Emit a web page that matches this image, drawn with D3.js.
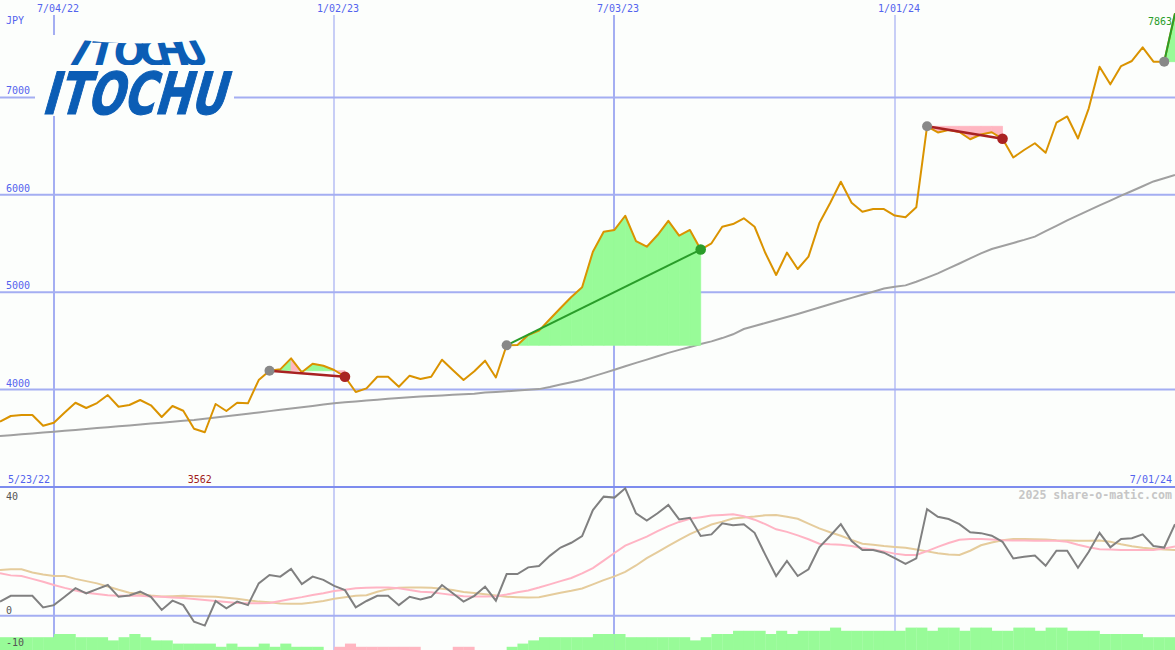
<!DOCTYPE html>
<html><head><meta charset="utf-8">
<script src="https://cdn.jsdelivr.net/npm/d3@7"></script>
<style>html,body{margin:0;padding:0;background:#fcfefc;overflow:hidden}</style>
</head><body><svg id="c" width="1175" height="650"></svg>
<script>
// ---------------- data ----------------
const startDate = "2022-05-30";           // first weekly point
const endDate = "2024-07-01";             // last (current) point
const price = [3670,3729,3739,3739,3629,3660,3765,3865,3811,3862,
 3944,3824,3842,3893,3839,3719,3832,3783,3598,3562,
 3852,3780,3865,3859,4098,4194,4208,4321,4178,4266,
 4245,4201,4132,3975,4013,4132,4132,4030,4143,4109,
 4132,4307,4201,4098,4188,4297,4124,4455,4458,4561,
 4605,4722,4838,4951,5050,5416,5621,5639,5785,5524,
 5467,5587,5733,5580,5639,5438,5502,5672,5700,5759,
 5672,5402,5177,5406,5238,5365,5707,5913,6134,5919,
 5826,5854,5854,5787,5769,5872,6703,6640,6665,6645,
 6570,6619,6642,6575,6383,6460,6529,6432,6740,6804,
 6578,6888,7315,7134,7322,7374,7514,7367,7367,7863];
const ma52 = [3524,3532,3541,3550,3559,3568,3577,3586,3595,3605,
 3614,3623,3632,3642,3651,3660,3670,3679,3688,3700,
 3713,3726,3740,3753,3766,3779,3793,3806,3819,3832,
 3846,3859,3869,3878,3887,3897,3906,3915,3922,3928,
 3934,3940,3946,3952,3958,3969,3976,3983,3990,3998,
 4005,4027,4052,4076,4101,4136,4169,4203,4239,4274,
 4308,4342,4377,4408,4438,4468,4495,4529,4568,4622,
 4653,4684,4715,4746,4777,4809,4843,4876,4910,4942,
 4974,5005,5037,5055,5070,5107,5150,5193,5244,5295,
 5347,5398,5444,5475,5506,5537,5571,5627,5682,5738,
 5789,5840,5891,5941,5991,6039,6088,6137,6170,6203];
const osc = [4.4,6.2,6.2,6.2,2.6,3.3,5.9,8.6,7.0,8.3,
 9.6,5.9,6.3,7.5,5.9,1.8,4.7,3.3,-1.9,-3.1,
 4.6,2.3,4.4,3.3,10.1,12.7,12.2,14.6,9.9,12.2,
 11.2,9.3,8.0,2.6,4.6,6.2,6.2,3.3,5.9,5.1,
 5.9,9.6,7.0,4.4,6.2,9.1,4.7,13.0,13.0,15.1,
 15.5,18.7,21.3,22.8,24.9,33.0,37.2,36.9,39.8,32.0,
 29.7,32.0,34.6,30.1,30.6,24.9,25.4,28.9,28.3,28.6,
 25.9,19.0,12.4,17.1,12.4,14.5,21.4,24.9,28.6,23.3,
 20.5,20.5,19.7,18.0,16.2,17.9,33.3,30.9,30.2,28.6,
 26.1,25.8,25.0,23.1,17.9,18.4,18.8,15.6,20.3,20.3,
 15.0,20.0,25.9,21.4,24.0,24.2,25.4,21.8,21.3,28.6];
const oscFast = [13.3,12.6,12.4,11.5,10.6,9.6,8.7,7.9,7.2,6.8,
 6.4,6.2,6.2,6.2,6.0,5.9,5.7,5.5,5.2,4.9,
 4.6,4.3,4.0,3.9,3.9,4.0,4.6,5.2,5.8,6.5,
 7.0,7.7,8.1,8.6,8.7,8.8,8.8,8.6,8.0,7.5,
 7.3,6.9,6.5,6.1,6.0,6.0,6.1,6.6,7.3,7.9,
 8.8,9.8,10.8,11.8,13.2,14.9,17.2,19.6,21.9,23.3,
 24.7,26.4,28.0,29.3,30.3,30.8,31.3,31.5,31.7,31.1,
 30.0,28.6,27.0,26.2,25.1,23.9,22.5,22.3,22.2,21.8,
 21.1,20.7,20.1,19.4,19.0,19.0,20.2,21.5,22.7,23.7,
 24.0,24.0,23.8,23.6,23.5,23.5,23.4,23.4,23.4,23.1,
 22.2,21.4,20.8,20.7,20.5,20.5,20.5,20.5,21.0,21.6];
const oscSlow = [14.3,14.5,14.5,13.5,12.9,12.4,12.4,11.5,10.8,10.1,
 9.1,8.1,7.2,6.8,6.3,6.0,6.1,6.2,6.1,6.0,
 5.9,5.6,5.3,4.8,4.4,4.2,3.8,3.7,3.7,4.1,
 4.6,5.3,5.8,6.2,6.4,7.5,8.3,8.7,8.8,8.8,
 8.7,8.4,8.0,7.4,7.1,6.7,6.3,5.9,5.8,5.7,
 5.8,6.5,7.2,7.8,8.5,9.8,11.1,12.3,13.7,15.7,
 18.0,19.9,21.8,23.7,25.5,27.0,28.5,29.4,30.4,30.7,
 31.0,31.4,31.5,30.9,30.3,28.8,27.3,26.1,25.0,23.7,
 22.5,22.2,21.8,21.5,21.2,20.7,20.1,19.5,19.1,19.0,
 20.3,22.0,22.9,23.6,24.0,24.0,23.9,23.8,23.6,23.5,
 23.4,23.4,23.5,23.1,22.3,21.7,21.2,20.9,20.7,20.5];
const bars = [4,4,4,4,4,5,5,4,4,4,
 3,4,5,4,3,3,2,2,2,2,
 1,2,1,1,2,1,2,1,1,1,
 0,-1,-2,-1,-1,-1,-1,-1,-1,0,
 0,0,-1,-1,0,0,0,1,2,3,
 4,4,4,4,4,5,5,5,4,4,
 4,4,4,4,3,4,5,5,6,6,
 6,5,6,5,6,6,6,7,6,6,
 6,6,6,6,7,7,6,7,7,6,
 7,7,6,6,7,7,6,7,7,6,
 6,6,5,5,5,5,4,4,4];
const trendSegments = [[25,32],[47,65],[86,93],[108,109]];
const dateTicks = ["2022-07-04","2023-01-02","2023-07-03","2024-01-01"];
const dateTickLabels = ["7/04/22","1/02/23","7/03/23","1/01/24"];
const priceTicks = [4000,5000,6000,7000];
const oscTicks = [40,0,-10];
const currency = "JPY";
const rangeStartLabel = "5/23/22", rangeEndLabel = "7/01/24";
const minLabel = "3562", lastLabel = "7863";
const credit = "2025 share-o-matic.com";
const logoText = "ITOCHU";

// ---------------- layout ----------------
const W = 1175, H = 650;
const parse = d3.utcParse("%Y-%m-%d");
const dates = d3.range(price.length).map(i => d3.utcDay.offset(parse(startDate), 7 * i));
const svg = d3.select("#c");
const x = d3.scaleUtc().domain([parse(startDate), parse(endDate)]).range([0, W]);
const yP = d3.scaleLinear().domain([3000, 8000]).range([487, 0]);
const yO = d3.scaleLinear().domain([0, 40]).range([615.7, 487.7]);
const BG = "#fcfefc", GRID = "#a4aef2", LBL = "#5363ee";
const GREEN_F = "#98fb98", PINK_F = "#ffb6c1";

svg.append("rect").attr("width", W).attr("height", H).attr("fill", BG);

// vertical grid + date labels
dateTicks.forEach((d, i) => {
  const xx = Math.round(x(parse(d)));
  svg.append("line").attr("x1", xx).attr("x2", xx).attr("y1", 15).attr("y2", H)
    .attr("stroke", GRID).attr("stroke-width", i % 2 === 0 ? 2 : 1.2);
  svg.append("text").attr("x", xx + 4).attr("y", 12).attr("text-anchor", "middle")
    .attr("font-family", "DejaVu Sans Mono").attr("font-size", 10).attr("fill", LBL)
    .text(dateTickLabels[i]);
});
// horizontal grid + price labels
priceTicks.forEach(p => {
  const yy = yP(p);
  svg.append("line").attr("x1", 0).attr("x2", W).attr("y1", yy).attr("y2", yy)
    .attr("stroke", GRID).attr("stroke-width", 2);
  svg.append("text").attr("x", 6).attr("y", yy - 3)
    .attr("font-family", "DejaVu Sans Mono").attr("font-size", 10).attr("fill", LBL).text(p);
});
svg.append("text").attr("x", 6).attr("y", 24).attr("font-family", "DejaVu Sans Mono")
  .attr("font-size", 10).attr("fill", LBL).text(currency);

// lower panel lines
svg.append("line").attr("x1", 0).attr("x2", W).attr("y1", yO(0)).attr("y2", yO(0))
  .attr("stroke", GRID).attr("stroke-width", 2);
svg.append("line").attr("x1", 0).attr("x2", W).attr("y1", 487).attr("y2", 487)
  .attr("stroke", "#7d8cee").attr("stroke-width", 2.2);

// bars (bottom histogram)
const unit = yO(0) - yO(1);
bars.forEach((v, i) => {
  if (v === 0) return;
  const x0 = x(dates[i]), x1 = x(dates[i + 1]);
  const h = Math.abs(v) * unit;
  svg.append("rect").attr("x", x0).attr("width", x1 - x0 + 0.3).attr("y", H - h).attr("height", h)
    .attr("fill", v > 0 ? GREEN_F : PINK_F);
});

// oscillator lines
const lineO = arr => d3.line().x((d, i) => x(dates[i])).y(d => yO(d))(arr);
svg.append("path").attr("d", lineO(oscSlow)).attr("fill", "none").attr("stroke", "#e5cc9c").attr("stroke-width", 2);
svg.append("path").attr("d", lineO(oscFast)).attr("fill", "none").attr("stroke", "#ffb4c4").attr("stroke-width", 2);
svg.append("path").attr("d", lineO(osc)).attr("fill", "none").attr("stroke", "#808080").attr("stroke-width", 2);

// oscillator labels
oscTicks.forEach((t, i) => {
  const yy = [499.5, 613.5, 646][i];
  svg.append("text").attr("x", 6).attr("y", yy).attr("font-family", "DejaVu Sans Mono")
    .attr("font-size", 10).attr("fill", "#555").text(t);
});

// divider labels
svg.append("text").attr("x", 8).attr("y", 483).attr("font-family", "DejaVu Sans Mono")
  .attr("font-size", 10).attr("fill", LBL).text(rangeStartLabel);
svg.append("text").attr("x", 1172).attr("y", 483).attr("text-anchor", "end").attr("font-family", "DejaVu Sans Mono")
  .attr("font-size", 10).attr("fill", LBL).text(rangeEndLabel);
const minIdx = price.indexOf(d3.min(price));
svg.append("text").attr("x", x(dates[minIdx]) - 5).attr("y", 483).attr("text-anchor", "middle")
  .attr("font-family", "DejaVu Sans Mono").attr("font-size", 10).attr("fill", "#a02020").text(minLabel);
svg.append("text").attr("x", 1172).attr("y", 499).attr("text-anchor", "end").attr("font-family", "DejaVu Sans Mono")
  .attr("font-weight", "bold").attr("font-size", 11.6).attr("fill", "#c6c6c6").text(credit);

// 52-week moving average
const lineP = arr => d3.line().x((d, i) => x(dates[i])).y(d => yP(d))(arr);
svg.append("path").attr("d", lineP(ma52)).attr("fill", "none").attr("stroke", "#a0a0a0").attr("stroke-width", 2);

// trend fills
trendSegments.forEach(([a, b]) => {
  const base = price[a];
  for (let i = a; i < b; i++) {
    const pts = [[x(dates[i]), yP(price[i])], [x(dates[i + 1]), yP(price[i + 1])],
                 [x(dates[i + 1]), yP(base)], [x(dates[i]), yP(base)]];
    const col = price[i + 1] >= base ? GREEN_F : PINK_F;
    svg.append("path").attr("d", d3.line()(pts) + "Z")
      .attr("fill", col).attr("stroke", col).attr("stroke-width", 0.8);
  }
});

// price line
svg.append("path").attr("d", lineP(price)).attr("fill", "none").attr("stroke", "#da9300")
  .attr("stroke-width", 2).attr("stroke-linejoin", "round");

// trend lines + dots
trendSegments.forEach(([a, b]) => {
  const up = price[b] >= price[a];
  svg.append("line").attr("x1", x(dates[a])).attr("y1", yP(price[a]))
    .attr("x2", x(dates[b])).attr("y2", yP(price[b]))
    .attr("stroke", up ? "#2a9d2a" : "#a82222").attr("stroke-width", up ? 2 : 2.6);
  svg.append("circle").attr("cx", x(dates[a])).attr("cy", yP(price[a])).attr("r", 5).attr("fill", "#888");
  if (b < price.length - 1)
    svg.append("circle").attr("cx", x(dates[b])).attr("cy", yP(price[b])).attr("r", 5.3)
      .attr("fill", up ? "#2a9d2a" : "#aa2222");
});
svg.append("text").attr("x", 1172).attr("y", 25).attr("text-anchor", "end").attr("font-family", "DejaVu Sans Mono")
  .attr("font-size", 10).attr("fill", "#2a9d2a").text(lastLabel);

// logo
const logo = svg.append("g");
logo.append("rect").attr("x", 35).attr("y", 35).attr("width", 199).attr("height", 81).attr("fill", BG);
const LC = "#0b5db5";
logo.append("text").attr("transform", "translate(41,114) skewX(-16)")
  .attr("font-family", "DejaVu Sans").attr("font-weight", "bold").attr("font-size", 58)
  .attr("textLength", 183).attr("lengthAdjust", "spacingAndGlyphs").attr("fill", LC)
  .attr("stroke", LC).attr("stroke-width", 1.2).text(logoText);
const defs = svg.append("defs");
defs.append("clipPath").attr("id", "arc").append("path")
  .attr("d", "M60,37 Q140,50 220,37 L220,65 L60,65 Z");
const logoTop = logo.append("g").attr("clip-path", "url(#arc)");
const letterX = [74, 99, 129, 154, 176, 197], letterSkew = [-30, -15, -4, 5, 15, 28];
logoText.split("").forEach((ch, i) => {
  logoTop.append("text").attr("transform", `translate(${letterX[i]},65) skewX(${letterSkew[i]})`)
    .attr("text-anchor", "middle").attr("font-family", "DejaVu Sans").attr("font-weight", "bold")
    .attr("font-size", 38).attr("fill", LC).text(ch);
});
</script></body></html>
